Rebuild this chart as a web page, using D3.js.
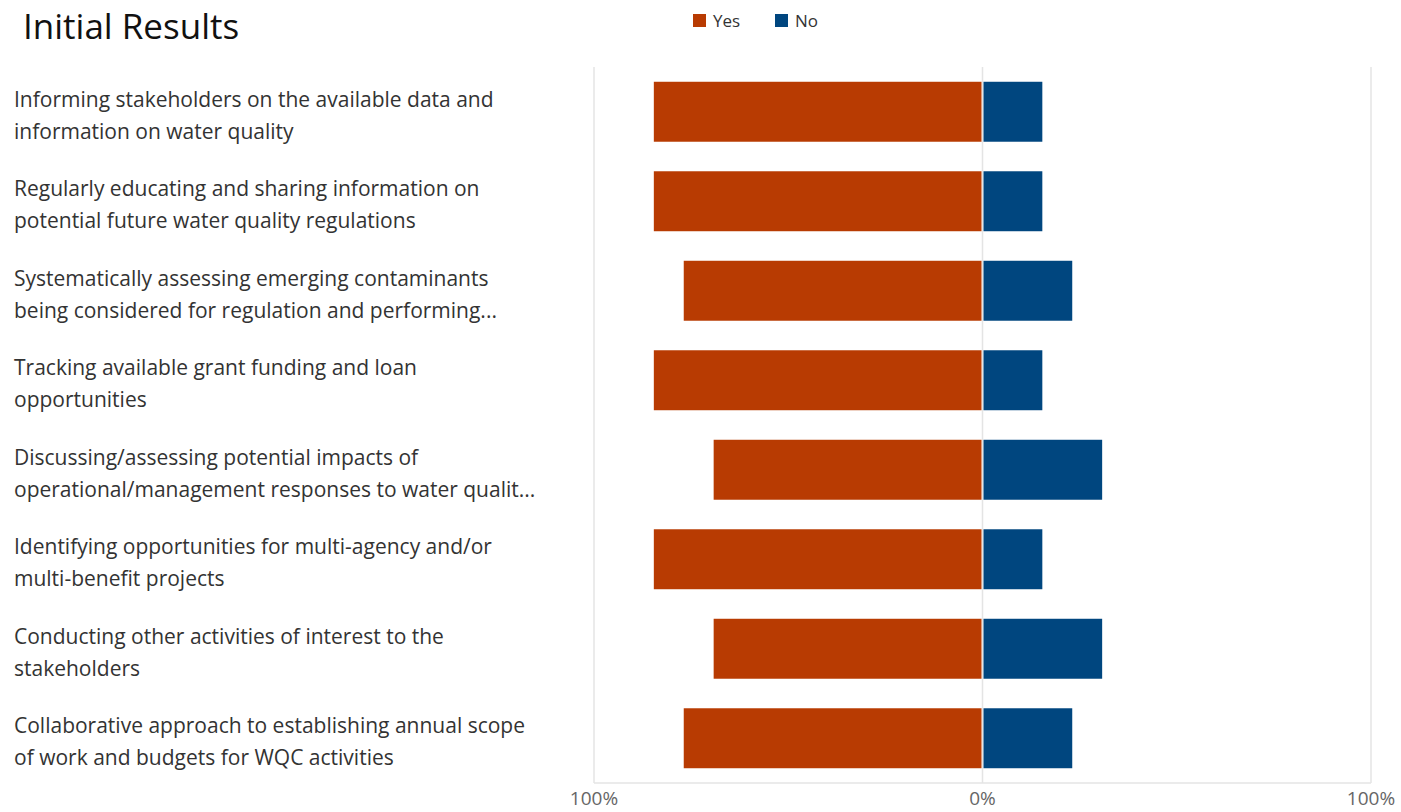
<!DOCTYPE html>
<html>
<head>
<meta charset="utf-8">
<script src="https://cdn.jsdelivr.net/npm/d3@7.9.0/dist/d3.min.js"></script>
<style>
  body { margin: 0; background: #fff; }
  svg { display: block; }
</style>
</head>
<body>
<div id="chart"></div>
<script>
// survey items (labels as shown, two lines each)
const categories = [
  ['Informing stakeholders on the available data and', 'information on water quality'],
  ['Regularly educating and sharing information on', 'potential future water quality regulations'],
  ['Systematically assessing emerging contaminants', 'being considered for regulation and performing...'],
  ['Tracking available grant funding and loan', 'opportunities'],
  ['Discussing/assessing potential impacts of', 'operational/management responses to water qualit...'],
  ['Identifying opportunities for multi-agency and/or', 'multi-benefit projects'],
  ['Conducting other activities of interest to the', 'stakeholders'],
  ['Collaborative approach to establishing annual scope', 'of work and budgets for WQC activities']
];
// share of responses (%)
const yesValues = [84.6, 84.6, 76.9, 84.6, 69.2, 84.6, 69.2, 76.9];
const noValues  = [15.4, 15.4, 23.1, 15.4, 30.8, 15.4, 30.8, 23.1];
const seriesNames = ['Yes', 'No'];
const seriesColors = ['#b83b02', '#00467f'];
const tickValues = [-100, 0, 100];
const tickLabels = ['100%', '0%', '100%'];

const width = 1401, height = 812;
const plot = { left: 594, right: 1371, top: 67, bottom: 783 };

const svg = d3.select('#chart').append('svg')
  .attr('width', width).attr('height', height);

// title
svg.append('text')
  .attr('x', 23).attr('y', 39)
  .attr('font-family', 'Open Sans, sans-serif')
  .attr('font-size', 35)
  .attr('fill', '#111')
  .text('Initial Results');

const x = d3.scaleLinear().domain([-100, 100]).range([plot.left, plot.right]);
const y = d3.scaleBand()
  .domain(d3.range(categories.length))
  .range([plot.top, plot.bottom])
  .paddingInner(0.33).paddingOuter(0.165);

// gridlines
svg.append('g')
  .selectAll('line')
  .data(tickValues)
  .join('line')
  .attr('x1', d => x(d)).attr('x2', d => x(d))
  .attr('y1', plot.top).attr('y2', plot.bottom)
  .attr('stroke', '#e4e4e4').attr('stroke-width', 1.5);

svg.append('line')
  .attr('x1', plot.left).attr('x2', plot.right)
  .attr('y1', plot.bottom).attr('y2', plot.bottom)
  .attr('stroke', '#e4e4e4').attr('stroke-width', 1.5);

// bars
const bars = svg.append('g');
bars.selectAll('rect.yes')
  .data(yesValues)
  .join('rect')
  .attr('class', 'yes')
  .attr('x', d => x(-d))
  .attr('y', (d, i) => y(i))
  .attr('width', d => x(0) - x(-d) - 1)
  .attr('height', y.bandwidth())
  .attr('fill', seriesColors[0]);

bars.selectAll('rect.no')
  .data(noValues)
  .join('rect')
  .attr('class', 'no')
  .attr('x', x(0) + 1)
  .attr('y', (d, i) => y(i))
  .attr('width', d => x(d) - x(0) - 1)
  .attr('height', y.bandwidth())
  .attr('fill', seriesColors[1]);

// category labels
const labels = svg.append('g')
  .selectAll('text')
  .data(categories)
  .join('text')
  .attr('font-family', 'Open Sans, sans-serif')
  .attr('font-size', 21)
  .attr('fill', '#333');

labels.each(function (lines, i) {
  const cy = y(i) + y.bandwidth() / 2;
  d3.select(this).selectAll('tspan')
    .data(lines)
    .join('tspan')
    .attr('x', 14)
    .attr('y', (d, j) => cy - 5 + j * 32)
    .text(d => d);
});

// bottom tick labels
svg.append('g')
  .selectAll('text')
  .data(tickValues)
  .join('text')
  .attr('x', d => x(d))
  .attr('y', 805)
  .attr('text-anchor', 'middle')
  .attr('font-family', 'Open Sans, sans-serif')
  .attr('font-size', 19)
  .attr('fill', '#666')
  .text((d, i) => tickLabels[i]);

// legend
const legend = svg.append('g');
const legendX = [693, 775];
seriesNames.forEach((name, i) => {
  legend.append('rect')
    .attr('x', legendX[i]).attr('y', 14)
    .attr('width', 13).attr('height', 13)
    .attr('fill', seriesColors[i]);
  legend.append('text')
    .attr('x', legendX[i] + 20).attr('y', 27)
    .attr('font-family', 'Open Sans, sans-serif')
    .attr('font-size', 17)
    .attr('fill', '#333')
    .text(name);
});
</script>
</body>
</html>
